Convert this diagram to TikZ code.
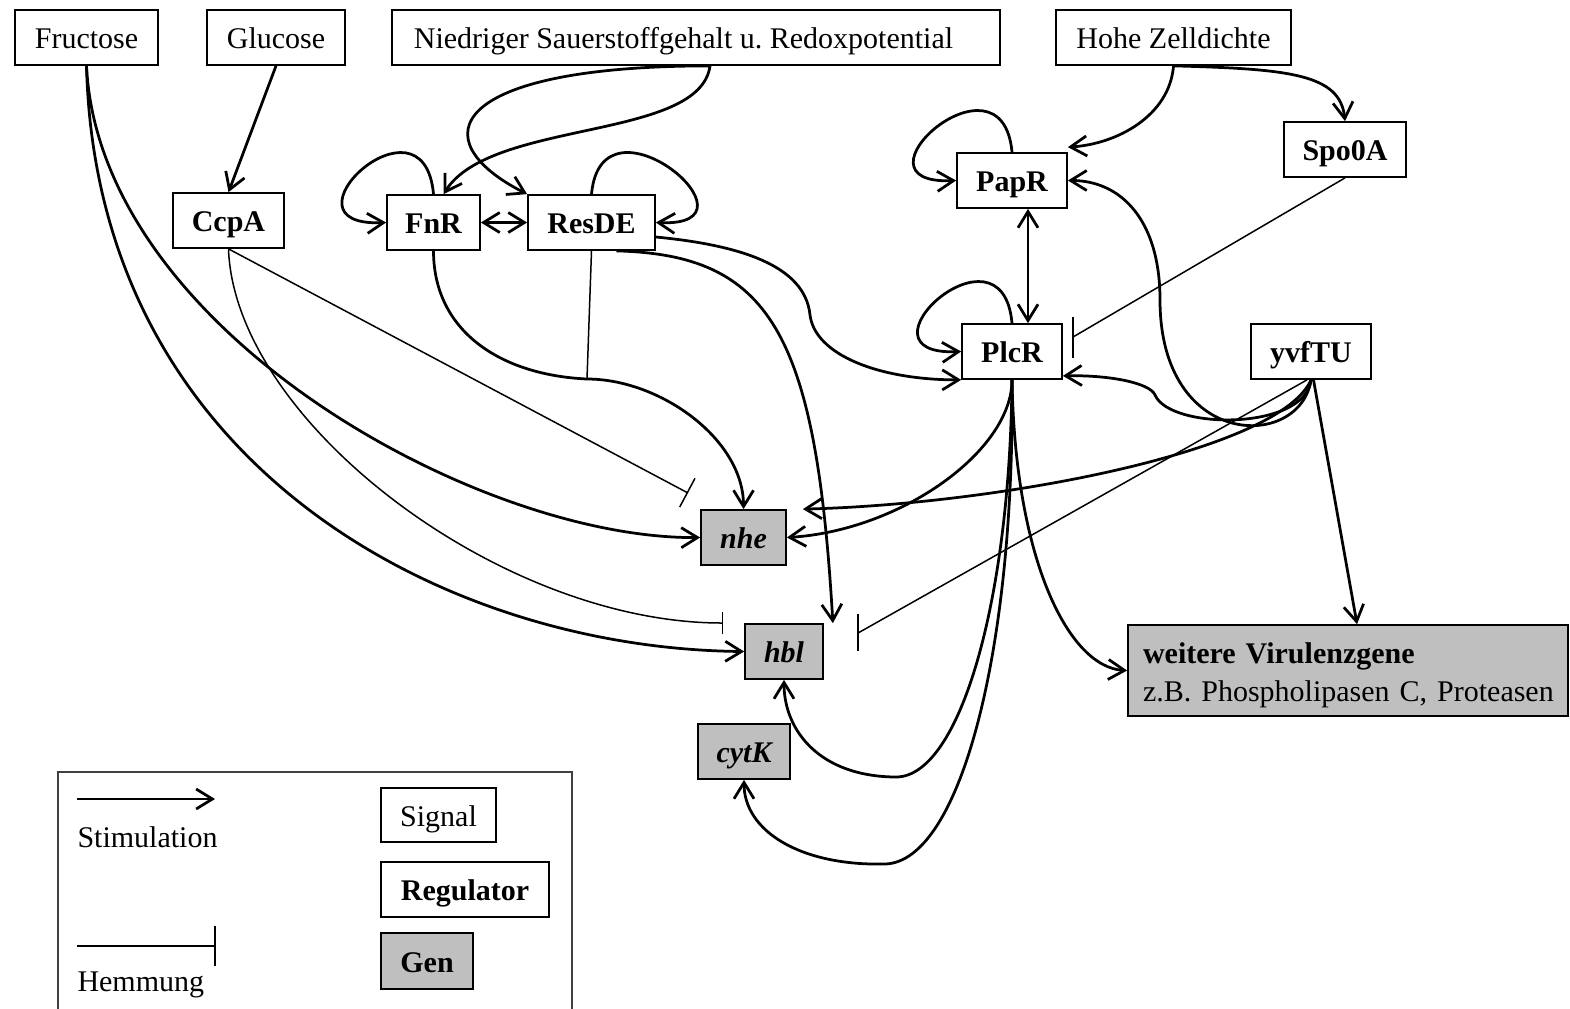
\documentclass[tikz,border=0pt]{standalone}
\usepackage{fontspec}
\setmainfont{Liberation Serif}
\usetikzlibrary{arrows.meta}
\frenchspacing

\tikzset{
  signal/.style={draw, line width=0.7pt, minimum height=22pt, inner sep=0pt, text height=10pt, text depth=1pt, font=\fontsize{12pt}{14pt}\selectfont}, % Signal box
  regulator/.style={signal, font=\fontsize{12pt}{14pt}\selectfont\bfseries}, % Regulator box
  gen/.style={signal, fill=gray!50, font=\fontsize{12pt}{14pt}\selectfont\bfseries\itshape}, % Gene box
  stim/.style={->, line width=1.1pt}, % Stimulation
  inhib/.style={line width=0.6pt} % Hemmung
}

\begin{document}
\begin{tikzpicture}[x=0.4pt, y=-0.4pt, >={Straight Barb[length=6.5pt,width=8pt]}]
  \useasboundingbox (0,0) rectangle (1570,1008);

  % Signale
  \node[signal, minimum width=57.2pt] (fructose) at (86.5,37.5) {Fructose};
  \node[signal, minimum width=55.2pt] (glucose) at (276,37.5) {Glucose};
  \node[signal, minimum width=243.2pt] (nied) at (696,37.5) {Niedriger Sauerstoffgehalt u. Redoxpotential\hspace*{10pt}};
  \node[signal, minimum width=94pt] (hohe) at (1173.5,37.5) {Hohe Zelldichte};

  % Regulatoren
  \node[regulator, minimum width=48.8pt] (spo0a) at (1345,149.5) {Spo0A};
  \node[regulator, minimum width=44pt] (papr) at (1012,180.5) {PapR};
  \node[regulator, minimum width=44.4pt] (ccpa) at (228.5,220.5) {CcpA};
  \node[regulator, minimum width=37.2pt] (fnr) at (433.5,222.5) {FnR};
  \node[regulator, minimum width=50.8pt] (resde) at (591.5,222.5) {ResDE};
  \node[regulator, minimum width=40pt] (plcr) at (1012,351.5) {PlcR};
  \node[regulator, minimum width=48pt] (yvftu) at (1311,351.5) {yvfTU};

  % Gene
  \node[gen, minimum width=34pt] (nhe) at (743.5,537.5) {nhe};
  \node[gen, minimum width=31.2pt] (hbl) at (784,651.5) {hbl};
  \node[gen, minimum width=36.8pt] (cytk) at (744,751.5) {cytK};
  \node[gen, font=\fontsize{12pt}{15pt}\selectfont, text height={}, text depth={}, minimum height=36.4pt, text width=170pt, inner xsep=3pt, align=left] (vir) at (1348,670.5)
    {\hspace*{3pt}\rule{0pt}{12.2pt}\textbf{weitere Virulenzgene}\\\hspace*{3pt}z.B. Phospholipasen C, Proteasen};

  % Hilfspunkte
  \coordinate (knot) at (587,379);
  \coordinate (ccpanhe) at (688,493);
  \coordinate (ccpahbl) at (723,623);
  \coordinate (spobar) at (1073,337);
  \coordinate (yvfbar) at (858,633);
  \coordinate (resbend) at (810,315);
  \coordinate (yvfbendA) at (1155,395);
  \coordinate (yvfbendB) at (1160,300);
  \coordinate (hblbend) at (897,777);
  \coordinate (cytbend) at (885,864);

  % Fructose, Glucose
  \draw[stim] (glucose.south) -- (ccpa.north);
  \draw[stim] (fructose.south) .. controls +(13,265) and +(-221,2) .. (nhe.west);
  \draw[stim] (fructose.south) .. controls +(10,400) and +(-300,-3) .. (hbl.west);

  % CcpA
  \draw[inhib, -{Bar[width=13pt]}] (ccpa.south) -- (ccpanhe);
  \draw[inhib, -{Bar[width=9pt]}] (ccpa.south) .. controls +(6,172) and +(-223,0) .. (ccpahbl);

  % Sauerstoff
  \draw[stim] ([xshift=5.6pt]nied.south) .. controls +(-10,75) and +(47,-75) .. ([xshift=4pt]fnr.north);
  \draw[stim] ([xshift=5.6pt]nied.south) .. controls +(-260,0) and +(-108,-55) .. (resde.north west);

  % Schleifen
  \draw[stim] (fnr.north) .. controls +(-10,-110) and +(-115,5) .. (fnr.west);
  \draw[stim] (resde.north) .. controls +(10,-110) and +(115,5) .. (resde.east);
  \draw[stim] (papr.north) .. controls +(-10,-110) and +(-115,5) .. (papr.west);
  \draw[stim] (plcr.north) .. controls +(-10,-110) and +(-115,5) .. (plcr.west);

  % FnR, ResDE
  \draw[stim, <->] (fnr.east) -- (resde.west);
  \draw[inhib] (resde.south) -- (knot);
  \draw[stim] (fnr.south) .. controls +(0,80) and +(-87,-4) .. (knot) .. controls +(73,0) and +(0,-70) .. (nhe.north);
  \draw[stim] ([xshift=10pt]resde.south) .. controls +(153,4) and +(-17,-292) .. ([xshift=3.6pt]hbl.north east);
  \draw[stim] ([yshift=-5.8pt]resde.east) .. controls +(83,8) and +(-5,-50) .. (resbend) .. controls +(5,40) and +(-82,0) .. (plcr.south west);

  % Zelldichte
  \draw[stim] (hohe.south) .. controls +(-4,50) and +(49,-3) .. ([yshift=2pt]papr.north east);
  \draw[stim] (hohe.south) .. controls +(116,3) and +(-5,-47) .. (spo0a.north);
  \draw[inhib] (spo0a.south) -- (spobar);
  \draw[inhib] ([yshift=8.2pt]spobar) -- ([yshift=-8.2pt]spobar);
  \draw[stim, <->] ([xshift=6.4pt]papr.south) -- ([xshift=6.4pt]plcr.north);

  % yvfTU
  \draw[stim] (yvftu.south) .. controls +(-6,51) and +(15,35) .. (yvfbendA) .. controls +(-5,-12) and +(47,-1) .. ([yshift=1.6pt]plcr.south east);
  \draw[stim] (yvftu.south) .. controls +(-11,71) and +(0,150) .. (yvfbendB) .. controls +(0,-80) and +(53,0) .. (papr.east);
  \draw[stim] (yvftu.south) .. controls +(-31,71) and +(198,-5) .. ([xshift=6.4pt]nhe.north east);
  \draw[stim] ([xshift=1pt]yvftu.south) -- ([xshift=3.6pt]vir.north);
  \draw[inhib] ([xshift=-1.6pt]yvftu.south) -- (yvfbar);
  \draw[inhib] ([yshift=7.8pt]yvfbar) -- ([yshift=-7.2pt]yvfbar);

  % PlcR
  \draw[stim] (plcr.south) .. controls +(0,71) and +(114,-7) .. (nhe.east);
  \draw[stim] (plcr.south) .. controls +(-2,221) and +(63,-2) .. (hblbend) .. controls +(-77,0) and +(0,51) .. (hbl.south);
  \draw[stim] (plcr.south) .. controls +(3,271) and +(75,-2) .. (cytbend) .. controls +(-85,2) and +(0,51) .. (cytk.south);
  \draw[stim] (plcr.south) .. controls +(3,181) and +(-58,-3) .. (vir.west);

  % Legende
  \draw[line width=0.5pt, black!75] (58,772) rectangle (572,1020);
  \coordinate (stA) at (77,799);
  \coordinate (stB) at (215,799);
  \coordinate (hmA) at (77,946);
  \coordinate (hmB) at (215,946);
  \draw[stim] (stA) -- (stB);
  \node[anchor=base west, inner sep=0pt, font=\fontsize{12pt}{14pt}\selectfont] (stimtext) at (77,847) {Stimulation};
  \draw[line width=1.1pt] (hmA) -- (hmB);
  \draw[inhib] ([yshift=8pt]hmB) -- ([yshift=-8pt]hmB);
  \node[anchor=base west, inner sep=0pt, font=\fontsize{12pt}{14pt}\selectfont] (hemtext) at (77,991) {Hemmung};
  \node[signal, minimum width=46pt, minimum height=21.6pt] (legsignal) at (438.5,815) {Signal};
  \node[regulator, minimum width=67.2pt] (legreg) at (465,889.5) {Regulator};
  \node[gen, font=\fontsize{12pt}{14pt}\selectfont\bfseries, minimum width=36.8pt, minimum height=22.4pt] (leggen) at (427,961) {Gen};
\end{tikzpicture}
\end{document}
